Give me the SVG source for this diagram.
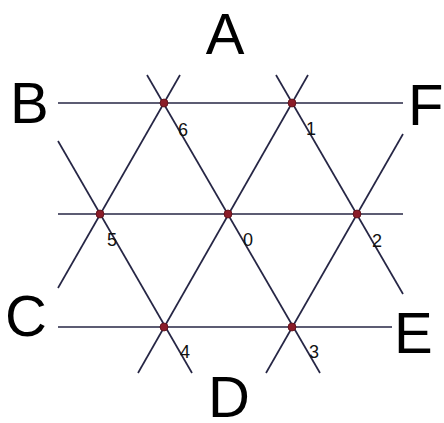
<svg xmlns="http://www.w3.org/2000/svg" width="444" height="423" viewBox="0 0 444 423">
<style>
.ln{stroke:#262645;stroke-width:1.7;fill:none}
.pt{fill:#8a1c28;stroke:#5a1018;stroke-width:0.8}
.big{font-family:"Liberation Sans",Arial,sans-serif;font-size:58px;fill:#000}
.num{font-family:"Liberation Sans",Arial,sans-serif;font-size:18px;fill:#111}
</style>
<rect width="444" height="423" fill="#fff"/>
<g id="connectors">
<line class="ln" x1="58" y1="103" x2="403" y2="103"/>
<line class="ln" x1="58" y1="214" x2="403" y2="214"/>
<line class="ln" x1="58" y1="327" x2="392" y2="327"/>
<line class="ln" x1="180" y1="75" x2="58" y2="288"/>
<line class="ln" x1="308" y1="75" x2="138" y2="373"/>
<line class="ln" x1="403" y1="134" x2="266" y2="373"/>
<line class="ln" x1="147" y1="75" x2="320" y2="373"/>
<line class="ln" x1="276" y1="75" x2="403" y2="294"/>
<line class="ln" x1="58" y1="141" x2="192" y2="373"/>
</g>
<g id="n6"><circle class="pt" cx="164" cy="103" r="4"/><text class="num" x="178" y="136">6</text></g>
<g id="n1"><circle class="pt" cx="292" cy="103" r="4"/><text class="num" x="306" y="135">1</text></g>
<g id="n5"><circle class="pt" cx="100" cy="214" r="4"/><text class="num" x="107" y="246">5</text></g>
<g id="n0"><circle class="pt" cx="228" cy="214" r="4"/><text class="num" x="243" y="246">0</text></g>
<g id="n2"><circle class="pt" cx="357" cy="214" r="4"/><text class="num" x="372" y="247">2</text></g>
<g id="n4"><circle class="pt" cx="164" cy="327" r="4"/><text class="num" x="180" y="358">4</text></g>
<g id="n3"><circle class="pt" cx="292" cy="327" r="4"/><text class="num" x="309" y="358">3</text></g>
<g id="A"><text class="big" x="225" y="54" text-anchor="middle">A</text></g>
<g id="B"><text class="big" x="10" y="123">B</text></g>
<g id="F"><text class="big" x="408" y="125">F</text></g>
<g id="C"><text class="big" x="5" y="336">C</text></g>
<g id="E"><text class="big" x="394" y="353">E</text></g>
<g id="D"><text class="big" x="229" y="417" text-anchor="middle">D</text></g>
</svg>
